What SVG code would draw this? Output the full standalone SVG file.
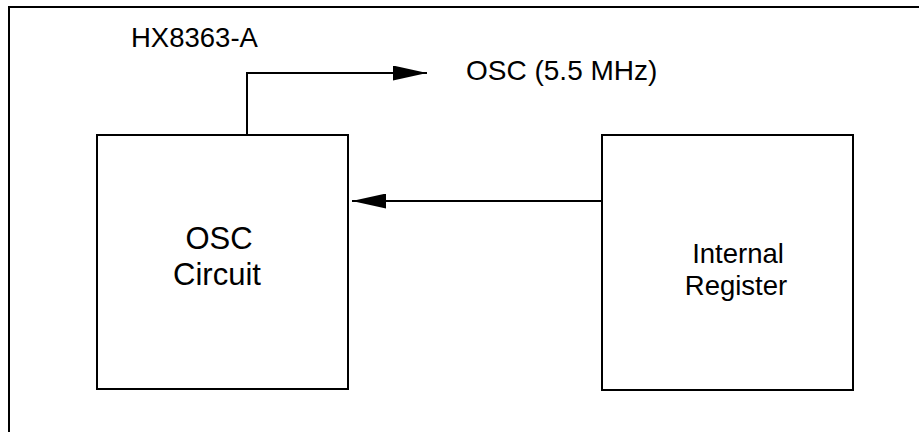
<svg xmlns="http://www.w3.org/2000/svg" width="919" height="432" viewBox="0 0 919 432">
  <style>
    .box { fill: #ffffff; stroke: #000000; stroke-width: 2; }
    .frame { fill: none; stroke: #000000; stroke-width: 2; }
    .wire { fill: none; stroke: #000000; stroke-width: 2; }
    .lbl { font-family: "Liberation Sans", Arial, sans-serif; fill: #000000; }
  </style>
  <defs>
    <marker id="arr" viewBox="0 0 34 15" refX="34" refY="7.5" markerWidth="34" markerHeight="15" markerUnits="userSpaceOnUse" orient="auto">
      <path d="M0,0 L34,7.5 L0,15 Z" fill="#000000"/>
    </marker>
  </defs>
  <rect width="919" height="432" fill="#ffffff"/>
  <rect class="frame" x="9" y="7" width="930" height="450"/>
  <text class="lbl" x="131" y="47" font-size="27.5">HX8363-A</text>
  <g id="osc-circuit">
    <rect class="box" x="97" y="135" width="251" height="254"/>
    <text class="lbl" x="219" y="249" font-size="31" text-anchor="middle">OSC</text>
    <text class="lbl" x="217" y="285" font-size="31" text-anchor="middle">Circuit</text>
  </g>
  <g id="internal-register">
    <rect class="box" x="602" y="135" width="251" height="255"/>
    <text class="lbl" x="738" y="263" font-size="27.5" text-anchor="middle">Internal</text>
    <text class="lbl" x="736" y="295" font-size="27.5" text-anchor="middle">Register</text>
  </g>
  <g id="osc-out">
    <text class="lbl" x="466" y="80" font-size="28">OSC (5.5 MHz)</text>
  </g>
  <g id="connectors">
    <path class="wire" d="M247,135 V73 H427" marker-end="url(#arr)"/>
    <path class="wire" d="M602,201 H352" marker-end="url(#arr)"/>
  </g>
</svg>
